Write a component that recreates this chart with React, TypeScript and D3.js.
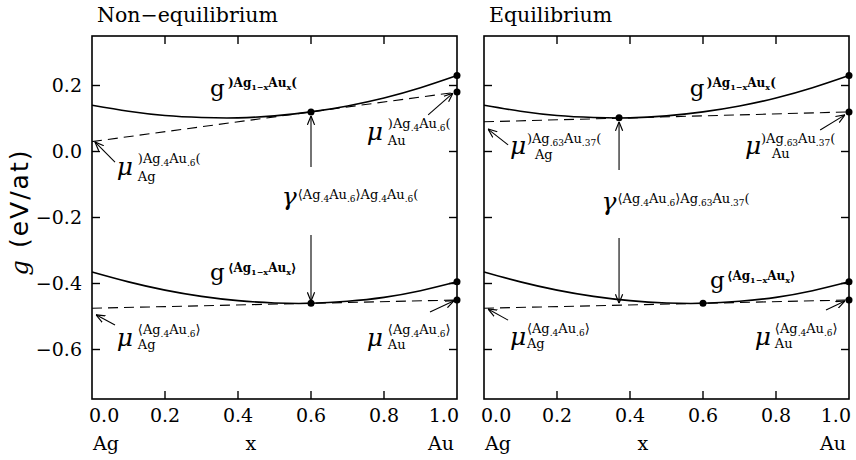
import React from "react";
import * as d3 from "d3";

// ---------- data ----------
const X_SAMPLES = [0, 0.1, 0.2, 0.3, 0.4, 0.5, 0.6, 0.7, 0.8, 0.9, 1.0];
const G_SURFACE = [0.14, 0.122, 0.109, 0.103, 0.102, 0.108, 0.12, 0.138, 0.162, 0.193, 0.23];
const G_BULK = [-0.365, -0.395, -0.42, -0.439, -0.452, -0.459, -0.46, -0.454, -0.442, -0.422, -0.395];
const TANGENT_X = [0, 1];
const SURF_TANGENT_NONEQ = [0.03, 0.18];
const SURF_TANGENT_EQ = [0.09, 0.12];
const BULK_TANGENT = [-0.475, -0.45];
const CONTACT_NONEQ = 0.6;
const CONTACT_EQ = 0.37;
const G_SURFACE_AT_EQ = 0.102;
const X_TICKS = [0, 0.2, 0.4, 0.6, 0.8, 1.0];
const X_TICK_LABELS = ["0.0", "0.2", "0.4", "0.6", "0.8", "1.0"];
const Y_TICKS = [0.2, 0, -0.2, -0.4, -0.6];
const Y_TICK_LABELS = ["0.2", "0.0", "\u22120.2", "\u22120.4", "\u22120.6"];
const TITLES = ["Non\u2212equilibrium", "Equilibrium"];

type Part = [string, number];
const SUP_G_SURF: Part[] = [[")Ag", 0], ["1\u2212x", 1], ["Au", 0], ["x", 1], ["(", 0]];
const SUP_G_BULK: Part[] = [["\u27E8Ag", 0], ["1\u2212x", 1], ["Au", 0], ["x", 1], ["\u27E9", 0]];
const SUP_MU_SURF_46: Part[] = [[")Ag", 0], [".4", 1], ["Au", 0], [".6", 1], ["(", 0]];
const SUP_MU_BULK_46: Part[] = [["\u27E8Ag", 0], [".4", 1], ["Au", 0], [".6", 1], ["\u27E9", 0]];
const SUP_MU_SURF_6337: Part[] = [[")Ag", 0], [".63", 1], ["Au", 0], [".37", 1], ["(", 0]];
const SUP_GAMMA_NONEQ: Part[] = [["\u27E8Ag", 0], [".4", 1], ["Au", 0], [".6", 1], ["\u27E9Ag", 0], [".4", 1], ["Au", 0], [".6", 1], ["(", 0]];
const SUP_GAMMA_EQ: Part[] = [["\u27E8Ag", 0], [".4", 1], ["Au", 0], [".6", 1], ["\u27E9Ag", 0], [".63", 1], ["Au", 0], [".37", 1], ["(", 0]];

// ---------- layout ----------
const TOP = 36;
const BOTTOM = 399;
const PW = 365;
const PANEL_X = [92, 484];
const SERIF = "'DejaVu Serif', serif";
const SANS = "'DejaVu Sans', sans-serif";

const yScale = d3.scaleLinear().domain([-0.75, 0.35]).range([BOTTOM, TOP]);

interface Ann {
  base: string; italic: boolean; x: number; y: number; sup: Part[]; bold?: boolean;
  supDx: number; supDy: number; sub?: string; subDx?: number; subDy?: number;
}

const lerp = (arr: number[], t: number) => arr[0] + (arr[1] - arr[0]) * t;
const surfAt = (t: number) => G_SURFACE[X_SAMPLES.indexOf(t)];
const bulkAt = (t: number) => G_BULK[X_SAMPLES.indexOf(t)];

const PANELS = [
  {
    title: TITLES[0],
    surfTangent: SURF_TANGENT_NONEQ,
    contactX: CONTACT_NONEQ,
    contactTop: surfAt(CONTACT_NONEQ),
    contactBottom: bulkAt(CONTACT_NONEQ),
    surfDotX: CONTACT_NONEQ,
    surfDotY: surfAt(CONTACT_NONEQ),
    gap: [-0.047, -0.253],
    yLabels: true,
    anns: [
      { base: "g", italic: false, x: 0.323, y: 0.168, sup: SUP_G_SURF, bold: true, supDx: 18, supDy: -9 },
      { base: "g", italic: false, x: 0.323, y: -0.389, sup: SUP_G_BULK, bold: true, supDx: 18, supDy: -8 },
      { base: "\u03BC", italic: true, x: 0.068, y: -0.071, sup: SUP_MU_SURF_46, supDx: 21, supDy: -12, sub: "Ag", subDx: 21, subDy: 6 },
      { base: "\u03BC", italic: true, x: 0.753, y: 0.035, sup: SUP_MU_SURF_46, supDx: 21, supDy: -12, sub: "Au", subDx: 21, subDy: 5 },
      { base: "\u03BC", italic: true, x: 0.068, y: -0.589, sup: SUP_MU_BULK_46, supDx: 21, supDy: -12, sub: "Ag", subDx: 21, subDy: 3 },
      { base: "\u03BC", italic: true, x: 0.753, y: -0.589, sup: SUP_MU_BULK_46, supDx: 21, supDy: -12, sub: "Au", subDx: 21, subDy: 3 },
      { base: "\u03B3", italic: true, x: 0.52, y: -0.162, sup: SUP_GAMMA_NONEQ, supDx: 16, supDy: -6 },
    ] as Ann[],
    arrows: [
      [0.063, -0.032, 0.008, 0.029],
      [0.921, 0.111, 0.989, 0.177],
      [0.063, -0.526, 0.011, -0.495],
      [0.926, -0.486, 0.992, -0.452],
    ],
  },
  {
    title: TITLES[1],
    surfTangent: SURF_TANGENT_EQ,
    contactX: CONTACT_EQ,
    contactTop: G_SURFACE_AT_EQ,
    contactBottom: lerp(BULK_TANGENT, CONTACT_EQ),
    surfDotX: CONTACT_EQ,
    surfDotY: G_SURFACE_AT_EQ,
    gap: [-0.056, -0.262],
    yLabels: false,
    anns: [
      { base: "g", italic: false, x: 0.564, y: 0.168, sup: SUP_G_SURF, bold: true, supDx: 17, supDy: -9 },
      { base: "g", italic: false, x: 0.619, y: -0.414, sup: SUP_G_BULK, bold: true, supDx: 17, supDy: -8 },
      { base: "\u03BC", italic: true, x: 0.071, y: -0.008, sup: SUP_MU_SURF_6337, supDx: 17, supDy: -11, sub: "Ag", subDx: 25, subDy: 5 },
      { base: "\u03BC", italic: true, x: 0.715, y: -0.008, sup: SUP_MU_SURF_6337, supDx: 16, supDy: -11, sub: "Au", subDx: 27, subDy: 4 },
      { base: "\u03BC", italic: true, x: 0.071, y: -0.586, sup: SUP_MU_BULK_46, supDx: 17, supDy: -12, sub: "Ag", subDx: 17, subDy: 3 },
      { base: "\u03BC", italic: true, x: 0.742, y: -0.586, sup: SUP_MU_BULK_46, supDx: 20, supDy: -12, sub: "Au", subDx: 20, subDy: 3 },
      { base: "\u03B3", italic: true, x: 0.322, y: -0.177, sup: SUP_GAMMA_EQ, supDx: 16, supDy: -7 },
    ] as Ann[],
    arrows: [
      [0.066, 0.02, 0.011, 0.068],
      [0.921, 0.065, 0.989, 0.111],
      [0.066, -0.511, 0.011, -0.477],
      [0.937, -0.48, 0.989, -0.453],
    ],
  },
];

function RichText({ x, y, parts, size, bold }: { x: number; y: number; parts: Part[]; size: number; bold?: boolean }) {
  let cur = 0;
  const subSize = Math.round(size * 0.7);
  return (
    <text x={x} y={y} fontFamily={SERIF} fontSize={size} fontWeight={bold ? "bold" : "normal"}>
      {parts.map(([t, s], i) => {
        const target = s ? 3 : 0;
        const dy = target - cur;
        cur = target;
        return (
          <tspan key={i} dy={dy} fontSize={s ? subSize : size}>
            {t}
          </tspan>
        );
      })}
    </text>
  );
}

function Panel({ p, x0 }: { p: (typeof PANELS)[number]; x0: number }) {
  const xs = d3.scaleLinear().domain([0, 1]).range([x0, x0 + PW]);
  const curve = d3
    .line<number>()
    .x((_, i) => xs(X_SAMPLES[i]))
    .y((d) => yScale(d))
    .curve(d3.curveNatural);
  const straight = d3
    .line<number>()
    .x((_, i) => xs(TANGENT_X[i]))
    .y((d) => yScale(d));
  const dots: [number, number][] = [
    [p.surfDotX, p.surfDotY],
    [1, G_SURFACE[G_SURFACE.length - 1]],
    [1, p.surfTangent[1]],
    [CONTACT_NONEQ, bulkAt(CONTACT_NONEQ)],
    [1, G_BULK[G_BULK.length - 1]],
    [1, BULK_TANGENT[1]],
  ];
  const cx = xs(p.contactX);
  const topY = yScale(p.contactTop) + 4;
  const botY = yScale(p.contactBottom) - 2;
  return (
    <g>
      <text x={x0 + 5} y={22} fontFamily={SERIF} fontSize={20.5}>
        {p.title}
      </text>
      {/* curves */}
      <path d={curve(G_SURFACE) || ""} fill="none" stroke="#000" strokeWidth={1.6} />
      <path d={curve(G_BULK) || ""} fill="none" stroke="#000" strokeWidth={1.6} />
      <path d={straight(p.surfTangent) || ""} fill="none" stroke="#000" strokeWidth={1.1} strokeDasharray="10,6" />
      <path d={straight(BULK_TANGENT) || ""} fill="none" stroke="#000" strokeWidth={1.1} strokeDasharray="10,6" />
      {dots.map(([dx, dy], i) => (
        <circle key={i} cx={xs(dx)} cy={yScale(dy)} r={3.5} fill="#000" />
      ))}
      {/* vertical arrow */}
      <line x1={cx} y1={topY} x2={cx} y2={yScale(p.gap[0])} stroke="#000" strokeWidth={1.1} markerStart="url(#ah)" />
      <line x1={cx} y1={yScale(p.gap[1])} x2={cx} y2={botY} stroke="#000" strokeWidth={1.1} markerEnd="url(#ah)" />
      {/* pointer arrows */}
      {p.arrows.map((a, i) => (
        <line key={i} x1={xs(a[0])} y1={yScale(a[1])} x2={xs(a[2])} y2={yScale(a[3])} stroke="#000" strokeWidth={1.1} markerEnd="url(#ah)" />
      ))}
      {/* annotations */}
      {p.anns.map((a, i) => {
        const bx = xs(a.x);
        const by = yScale(a.y);
        return (
          <g key={i}>
            <text x={bx} y={by} fontFamily={SERIF} fontSize={a.italic ? 25 : 23} fontStyle={a.italic ? "italic" : "normal"}>
              {a.base}
            </text>
            <RichText x={bx + a.supDx} y={by + a.supDy} parts={a.sup} size={a.bold ? 12 : 13} bold={a.bold} />
            {a.sub && (
              <text x={bx + (a.subDx || 0)} y={by + (a.subDy || 0)} fontFamily={SERIF} fontSize={13}>
                {a.sub}
              </text>
            )}
          </g>
        );
      })}
      {/* frame */}
      <rect x={x0} y={TOP} width={PW} height={BOTTOM - TOP} fill="none" stroke="#000" strokeWidth={1.6} />
      {/* ticks */}
      {X_TICKS.slice(1, -1).map((t, i) => (
        <g key={"xt" + i}>
          <line x1={xs(t)} x2={xs(t)} y1={BOTTOM} y2={BOTTOM - 8} stroke="#000" strokeWidth={1.4} />
          <line x1={xs(t)} x2={xs(t)} y1={TOP} y2={TOP + 8} stroke="#000" strokeWidth={1.4} />
        </g>
      ))}
      {Y_TICKS.map((t, i) => (
        <g key={"yt" + i}>
          <line x1={x0} x2={x0 + 8} y1={yScale(t)} y2={yScale(t)} stroke="#000" strokeWidth={1.4} />
          <line x1={x0 + PW - 8} x2={x0 + PW} y1={yScale(t)} y2={yScale(t)} stroke="#000" strokeWidth={1.4} />
        </g>
      ))}
      {/* x tick labels */}
      {X_TICKS.map((t, i) => {
        const first = i === 0;
        const last = i === X_TICKS.length - 1;
        return (
          <text
            key={"xl" + i}
            x={xs(t) + (first ? -3 : last ? 2 : 0)}
            y={422}
            fontFamily={SERIF}
            fontSize={19}
            textAnchor={first ? "start" : last ? "end" : "middle"}
          >
            {X_TICK_LABELS[i]}
          </text>
        );
      })}
      <text x={xs(0) + 1} y={450} fontFamily={SERIF} fontSize={19}>Ag</text>
      <text x={xs(0.435)} y={450} fontFamily={SERIF} fontSize={19} textAnchor="middle">x</text>
      <text x={xs(1) - 3} y={450} fontFamily={SERIF} fontSize={19} textAnchor="end">Au</text>
      {p.yLabels &&
        Y_TICKS.map((t, i) => (
          <text key={"yl" + i} x={x0 - 10} y={yScale(t) + 6.5} fontFamily={SERIF} fontSize={19} textAnchor="end">
            {Y_TICK_LABELS[i]}
          </text>
        ))}
    </g>
  );
}

export default function App() {
  return (
    <svg width={856} height={460} style={{ position: "absolute", left: 0, top: 0, background: "#fff" }}>
      <defs>
        <marker id="ah" viewBox="0 0 10 10" refX="10" refY="5" markerWidth="9" markerHeight="9" orient="auto-start-reverse" markerUnits="userSpaceOnUse">
          <path d="M0,1 L10,5 L0,9" fill="none" stroke="#000" strokeWidth={1.3} />
        </marker>
      </defs>
      <rect x={0} y={0} width={856} height={460} fill="#fff" />
      {PANELS.map((p, i) => (
        <Panel key={i} p={p} x0={PANEL_X[i]} />
      ))}
      <text transform="translate(28,212) rotate(-90)" textAnchor="middle">
        <tspan fontFamily={SERIF} fontStyle="italic" fontSize={24}>g</tspan>
        <tspan fontFamily={SANS} fontSize={25} letterSpacing={2} dx={12}>(eV/at)</tspan>
      </text>
    </svg>
  );
}
